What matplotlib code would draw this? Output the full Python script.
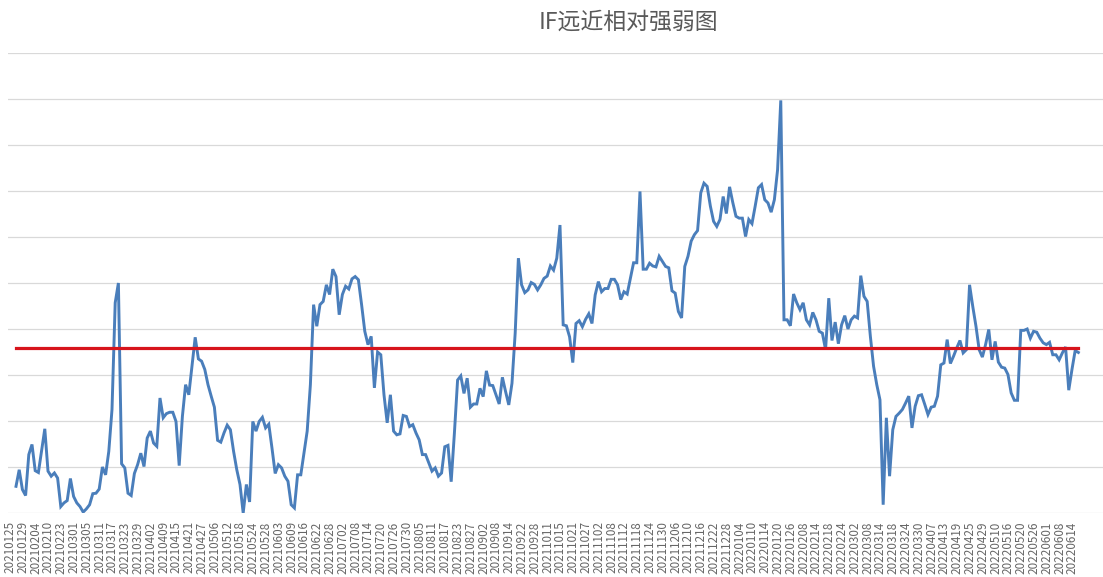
import matplotlib
matplotlib.use('Agg')
import matplotlib.pyplot as plt
import matplotlib.transforms as mtransforms
import numpy as np

plt.rcParams['font.family'] = ['Noto Sans CJK SC', 'DejaVu Sans']

## 远近相对强弱 (每个交易日一个点, 2021-01-25 ~ 2022-06-14)
strength = [
    0.58, 0.94, 0.51, 0.38, 1.27, 1.49, 0.92, 0.88, 1.35, 1.83,
    0.91, 0.80, 0.87, 0.76, 0.14, 0.22, 0.27, 0.75, 0.36, 0.22,
    0.14, 0.02, 0.09, 0.18, 0.42, 0.43, 0.52, 1.00, 0.83, 1.34,
    2.25, 4.57, 5.00, 1.07, 0.98, 0.43, 0.38, 0.86, 1.05, 1.30,
    1.01, 1.63, 1.78, 1.52, 1.45, 2.50, 2.07, 2.16, 2.19, 2.19,
    1.99, 1.03, 2.10, 2.79, 2.57, 3.19, 3.82, 3.35, 3.30, 3.12,
    2.79, 2.54, 2.30, 1.58, 1.54, 1.74, 1.91, 1.81, 1.34, 0.94,
    0.62, 0.00, 0.62, 0.24, 1.99, 1.78, 1.99, 2.08, 1.85, 1.93,
    1.41, 0.86, 1.05, 0.98, 0.80, 0.69, 0.18, 0.11, 0.83, 0.83,
    1.30, 1.78, 2.79, 4.53, 4.06, 4.53, 4.60, 4.96, 4.75, 5.30,
    5.14, 4.31, 4.75, 4.93, 4.87, 5.09, 5.14, 5.07, 4.53, 3.95,
    3.66, 3.84, 2.72, 3.50, 3.44, 2.57, 1.96, 2.57, 1.78, 1.70,
    1.72, 2.12, 2.10, 1.88, 1.92, 1.74, 1.59, 1.27, 1.27, 1.09,
    0.91, 0.98, 0.80, 0.87, 1.44, 1.47, 0.68, 1.73, 2.89, 2.98,
    2.60, 2.93, 2.30, 2.37, 2.37, 2.71, 2.53, 3.09, 2.78, 2.77,
    2.57, 2.37, 2.95, 2.64, 2.35, 2.82, 3.91, 5.54, 4.96, 4.79,
    4.85, 5.01, 4.97, 4.85, 4.96, 5.10, 5.15, 5.37, 5.28, 5.54,
    6.26, 4.09, 4.07, 3.83, 3.27, 4.12, 4.18, 4.05, 4.21, 4.33,
    4.12, 4.74, 5.03, 4.81, 4.88, 4.88, 5.08, 5.08, 4.96, 4.64,
    4.81, 4.76, 5.10, 5.44, 5.44, 6.99, 5.30, 5.30, 5.43, 5.37,
    5.35, 5.58, 5.47, 5.36, 5.33, 4.83, 4.78, 4.38, 4.24, 5.36,
    5.58, 5.91, 6.05, 6.14, 6.96, 7.17, 7.10, 6.67, 6.34, 6.23,
    6.38, 6.88, 6.51, 7.09, 6.75, 6.45, 6.41, 6.41, 6.01, 6.38,
    6.29, 6.67, 7.07, 7.14, 6.81, 6.74, 6.54, 6.81, 7.46, 8.97,
    4.20, 4.20, 4.07, 4.76, 4.57, 4.42, 4.57, 4.20, 4.09, 4.36,
    4.20, 3.95, 3.91, 3.55, 4.67, 3.75, 4.15, 3.68, 4.09, 4.29,
    4.00, 4.20, 4.28, 4.24, 5.16, 4.71, 4.60, 3.84, 3.19, 2.79,
    2.46, 0.18, 2.07, 0.80, 1.81, 2.10, 2.17, 2.25, 2.39, 2.54,
    1.85, 2.32, 2.55, 2.57, 2.36, 2.14, 2.30, 2.32, 2.54, 3.22,
    3.26, 3.77, 3.25, 3.41, 3.59, 3.75, 3.48, 3.55, 4.96, 4.49,
    4.06, 3.55, 3.39, 3.66, 3.99, 3.33, 3.73, 3.28, 3.17, 3.15,
    3.01, 2.61, 2.45, 2.45, 3.97, 3.97, 4.00, 3.80, 3.95, 3.93,
    3.80, 3.70, 3.66, 3.71, 3.44, 3.44, 3.33, 3.48, 3.61, 2.67,
    3.12, 3.53, 3.49,
]
avg_level = 3.59

## x轴标签 (每4个交易日一个)
tick_labels = [
    '20210125', '20210129', '20210204', '20210210', '20210223', '20210301',
    '20210305', '20210311', '20210317', '20210323', '20210329', '20210402',
    '20210409', '20210415', '20210421', '20210427', '20210506', '20210512',
    '20210518', '20210524', '20210528', '20210603', '20210609', '20210616',
    '20210622', '20210628', '20210702', '20210708', '20210714', '20210720',
    '20210726', '20210730', '20210805', '20210811', '20210817', '20210823',
    '20210827', '20210902', '20210908', '20210914', '20210922', '20210928',
    '20211011', '20211015', '20211021', '20211027', '20211102', '20211108',
    '20211112', '20211118', '20211124', '20211130', '20211206', '20211210',
    '20211216', '20211222', '20211228', '20220104', '20220110', '20220114',
    '20220120', '20220126', '20220208', '20220214', '20220218', '20220224',
    '20220302', '20220308', '20220314', '20220318', '20220324', '20220330',
    '20220407', '20220413', '20220419', '20220425', '20220429', '20220510',
    '20220516', '20220520', '20220526', '20220601', '20220608', '20220614',
]

fig = plt.figure(figsize=(11.03, 5.77), dpi=100)
ax = fig.add_axes([8 / 1103, 64 / 577, 1095 / 1103, 460 / 577])

axe_x = np.arange(len(strength))
ax.plot(axe_x, strength, color='#4a7ebb', lw=2.1, solid_joinstyle='miter', zorder=3)
ax.plot(axe_x, [avg_level] * len(strength), color='#d7141c', lw=2.3, zorder=4)

ax.set_xlim(-2.5, 339.7)
ax.set_ylim(0, 10)
ax.set_yticks(np.arange(0, 11))
ax.set_yticklabels([])
ax.grid(axis='y', color='#d9d9d9', lw=0.9)
ax.set_axisbelow(True)
for s in ax.spines.values():
    s.set_visible(False)

ax.set_xticks(axe_x[::4])
ax.set_xticklabels(tick_labels, rotation=90, fontsize=8.4, color='#666666')
ax.tick_params(axis='both', length=0)
ax.tick_params(axis='x', pad=6)
offset = mtransforms.ScaledTranslation(-6 / 100, 0, fig.dpi_scale_trans)
for lab in ax.get_xticklabels():
    lab.set_transform(lab.get_transform() + offset)

fig.text(628 / 1103, 1 - 22 / 577, 'IF远近相对强弱图', ha='center', va='center',
         fontsize=16.5, color='#595959')

fig.savefig('out.png', dpi=100)
